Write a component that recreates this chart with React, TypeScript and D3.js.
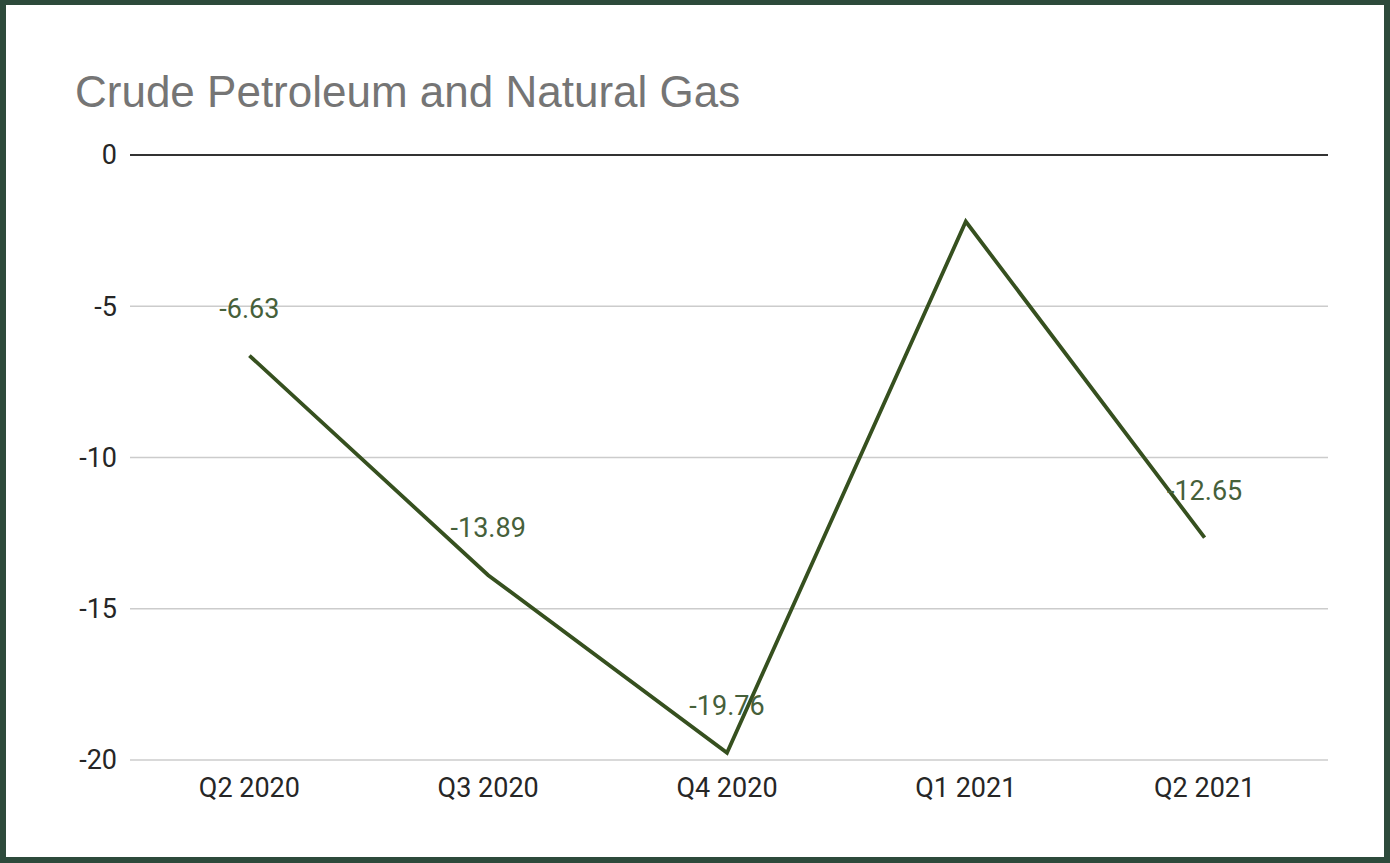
import React from "react";
import * as d3 from "d3";

const title = "Crude Petroleum and Natural Gas";
const categories = ["Q2 2020", "Q3 2020", "Q4 2020", "Q1 2021", "Q2 2021"];
const values = [-6.63, -13.89, -19.76, -2.2, -12.65];
const labels = ["-6.63", "-13.89", "-19.76", "", "-12.65"];
const yTicks = [0, -5, -10, -15, -20];

export default function App() {
  const W = 1390;
  const H = 863;
  const left = 130;
  const right = 1328;
  const top = 155;
  const bottom = 760;

  const x = d3.scaleBand<string>().domain(categories).range([left, right - 4]);
  const y = d3.scaleLinear().domain([-20, 0]).range([bottom, top]);
  const cx = (c: string) => (x(c) as number) + x.bandwidth() / 2;

  const line = d3
    .line<number>()
    .x((_, i) => cx(categories[i]))
    .y((v) => y(v));

  return (
    <svg
      width={W}
      height={H}
      style={{ position: "fixed", left: 0, top: 0, display: "block" }}
    >
      <rect x={0} y={0} width={W} height={H} fill="#2d4a3b" />
      <rect x={6} y={5} width={W - 12} height={H - 11} fill="#ffffff" />
      <text
        x={75}
        y={107}
        fontFamily="'Liberation Sans', Arial, sans-serif"
        fontSize={44}
        fill="#757575"
      >
        {title}
      </text>
      {yTicks.map((t) => (
        <g key={t}>
          <line
            x1={left}
            x2={right}
            y1={y(t)}
            y2={y(t)}
            stroke={t === 0 ? "#333333" : "#cccccc"}
            strokeWidth={t === 0 ? 2 : 1.3}
          />
          <text
            x={117}
            y={y(t)}
            dy="0.35em"
            textAnchor="end"
            fontFamily="Roboto, sans-serif"
            fontSize={27}
            fill="#262626"
          >
            {t}
          </text>
        </g>
      ))}
      {categories.map((c) => (
        <text
          key={c}
          x={cx(c)}
          y={797}
          textAnchor="middle"
          fontFamily="Roboto, sans-serif"
          fontSize={27}
          fill="#262626"
        >
          {c}
        </text>
      ))}
      <path
        d={line(values) || ""}
        fill="none"
        stroke="#36501f"
        strokeWidth={3.8}
        strokeLinejoin="miter"
      />
      {values.map((v, i) =>
        labels[i] ? (
          <text
            key={i}
            x={cx(categories[i])}
            y={y(v) - 38}
            textAnchor="middle"
            fontFamily="Roboto, sans-serif"
            fontSize={27}
            fill="#46603a"
          >
            {labels[i]}
          </text>
        ) : null
      )}
    </svg>
  );
}
